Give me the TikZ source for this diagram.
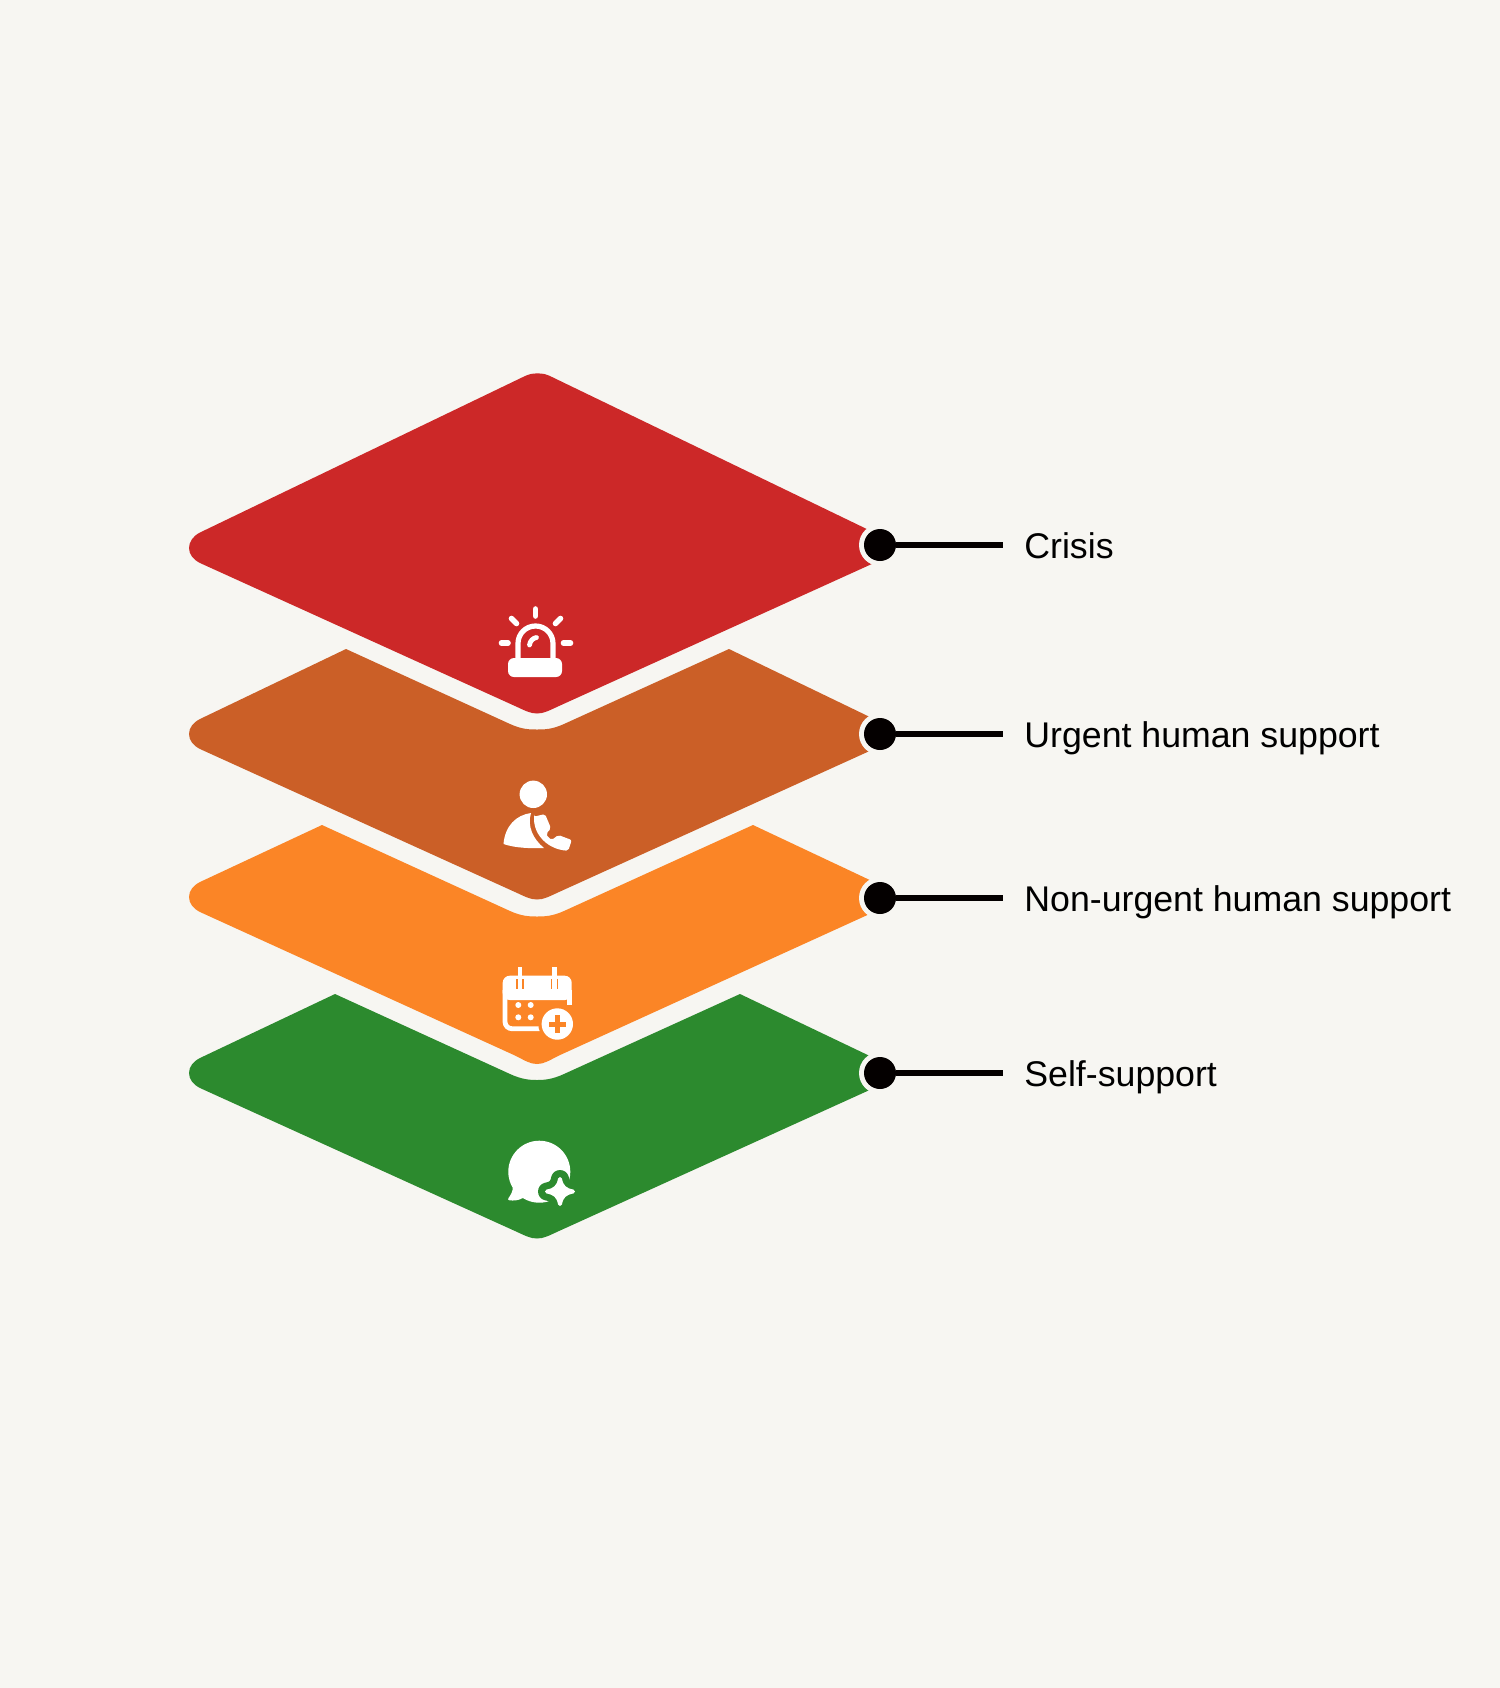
\documentclass[tikz,border=0pt]{standalone}
\usepackage{fontspec}
\setmainfont{Liberation Sans}
\definecolor{bgc}{HTML}{F7F6F2}
\definecolor{crisisc}{HTML}{CC2828}
\definecolor{urgentc}{HTML}{CB5F27}
\definecolor{nonurgc}{HTML}{FB8526}
\definecolor{selfc}{HTML}{2C8A2E}
\definecolor{dotc}{HTML}{040000}
\tikzset{
  dotnode/.style={circle,fill=dotc,inner sep=0pt,minimum size=16pt},
  halo/.style={fill=bgc},
  leader/.style={draw=dotc,line width=3pt},
  lab/.style={anchor=base west,inner sep=0pt,font=\fontsize{17.85pt}{22pt}\selectfont,text=black},
  ray/.style={draw=white,line width=2.8pt,line cap=round},
}
\begin{document}
\begin{tikzpicture}[x=0.5pt,y=-0.5pt]
\useasboundingbox (0,0) rectangle (1500,1688);
\fill[bgc] (0,0) rectangle (1500,1688);
% layers
\fill[crisisc] (200,532.5) .. controls (193,536) and (189,542) .. (189,548) .. controls (189,554) and (193,559.5) .. (200,563) -- (515,706) .. controls (525,710.5) and (530,713.5) .. (537,713.5) .. controls (544,713.5) and (549,710.5) .. (559,706) -- (874,563) .. controls (881,559.5) and (885,554) .. (885,548) .. controls (885,542) and (881,536) .. (874,532.5) -- (552,377) .. controls (545,373.6) and (542,373.3) .. (537.5,373.3) .. controls (533,373.3) and (530,373.6) .. (523,377) -- cycle;
\fill[urgentc] (200,719) .. controls (193,722.5) and (189,728) .. (189,734) .. controls (189,740) and (193,745.5) .. (200,749) -- (515,892) .. controls (525,896.5) and (530,899.5) .. (537,899.5) .. controls (544,899.5) and (549,896.5) .. (559,892) -- (874,749) .. controls (881,745.5) and (885,740) .. (885,734) .. controls (885,728) and (881,722.5) .. (874,719) -- (729,649) -- (564,724) .. controls (552,729.5) and (544,729.5) .. (537,729.5) .. controls (530,729.5) and (522,729.5) .. (510,724) -- (346,649) -- cycle;
\fill[nonurgc] (200,882) .. controls (193,885.5) and (189,891) .. (189,897) .. controls (189,903) and (193,908.5) .. (200,912) -- (515,1055.5) .. controls (525,1060.5) and (530,1064) .. (537,1064) .. controls (544,1064) and (549,1060.5) .. (559,1055.5) -- (874,912) .. controls (881,908.5) and (885,903) .. (885,897) .. controls (885,891) and (881,885.5) .. (874,882) -- (753,825) -- (564,911) .. controls (552,916.4) and (544,916.5) .. (537,916.5) .. controls (530,916.5) and (522,916.4) .. (510,911) -- (322,825) -- cycle;
\fill[selfc] (200,1058) .. controls (193,1061.5) and (189,1067) .. (189,1073) .. controls (189,1079) and (193,1084.5) .. (200,1088) -- (515,1231) .. controls (525,1235.5) and (530,1238.5) .. (537,1238.5) .. controls (544,1238.5) and (549,1235.5) .. (559,1231) -- (874,1088) .. controls (881,1084.5) and (885,1079) .. (885,1073) .. controls (885,1067) and (881,1061.5) .. (874,1058) -- (740,994) -- (564,1074) .. controls (552,1079.5) and (544,1080) .. (537,1080) .. controls (530,1080) and (522,1079.5) .. (510,1074) -- (335,994) -- cycle;
% halos
\fill[halo] (880,545) circle (21);
\fill[halo] (880,734) circle (21);
\fill[halo] (880,898) circle (21);
\fill[halo] (880,1073) circle (21);
% leaders and labels
\node[dotnode] (d1) at (880,545) {};
\node[dotnode] (d2) at (880,734) {};
\node[dotnode] (d3) at (880,898) {};
\node[dotnode] (d4) at (880,1073) {};
\coordinate (e1) at (1003,545);
\coordinate (e2) at (1003,734);
\coordinate (e3) at (1003,898);
\coordinate (e4) at (1003,1073);
\draw[leader] (d1) -- (e1);
\draw[leader] (d2) -- (e2);
\draw[leader] (d3) -- (e3);
\draw[leader] (d4) -- (e4);
\node[lab] (l1) at (1024,558) {Crisis};
\node[lab] (l2) at (1024,747) {Urgent human support};
\node[lab] (l3) at (1024,911) {Non-urgent human support};
\node[lab] (l4) at (1024,1086) {Self-support};
% alarm icon
\fill[white,rounded corners=3pt] (508,658) rectangle (562,677);
\draw[white,line width=2.6pt] (518,662) -- (518,643.5) .. controls (518,633.8) and (525.8,626) .. (535.5,626) .. controls (545.2,626) and (553,633.8) .. (553,643.5) -- (553,662);
\draw[ray,line width=2.4pt] (529.5,645) .. controls (530,641) and (533,638) .. (536.5,637.5);
\draw[ray] (535.5,609) -- (535.5,616);
\draw[ray] (511.5,618.5) -- (516.5,623.5);
\draw[ray] (560.5,618.5) -- (555.5,623.5);
\draw[ray] (501.5,643) -- (508,643);
\draw[ray] (563.5,643) -- (570.5,643);
% person icon
\fill[white] (533.3,794.3) circle (13.7);
\fill[white] (503.5,844) .. controls (505,826) and (516,815) .. (531,813) .. controls (527,826) and (533,839) .. (544,848) .. controls (530,848.5) and (515,848) .. (503.5,844) -- cycle;
\fill[white,rounded corners=1pt] (534,816.7) -- (545,814) -- (551,828.3) -- (546,834) .. controls (548,837) and (549,838) .. (551.7,840) -- (558.3,835) -- (571.7,840) -- (568.3,850.7) .. controls (549,849.5) and (534,836) .. (534,816.7) -- cycle;
% calendar icon
\fill[white,rounded corners=3.5pt] (502.7,975.7) rectangle (571.7,1000);
\fill[white] (502.7,990) rectangle (571.7,995);
\draw[white,line width=2.4pt,rounded corners=3.5pt] (505,990) -- (505,1028.7) -- (545,1028.7);
\draw[white,line width=2.4pt] (569.3,990) -- (569.3,1005);
\fill[nonurgc] (516.3,979) rectangle (523.7,988.5);
\fill[nonurgc] (550.6,979) rectangle (558,988.5);
\fill[white] (517.7,967.3) rectangle (522.3,988.5);
\fill[white] (552,967.3) rectangle (556.6,988.5);
\fill[white] (518.3,1005) circle (3);
\fill[white] (530.7,1005) circle (3);
\fill[white] (518.3,1017.3) circle (3);
\fill[white] (530.7,1017.3) circle (3);
\fill[nonurgc] (557.3,1024) circle (19);
\fill[white] (557.3,1024) circle (15.7);
\fill[nonurgc] (555,1015) rectangle (559.8,1033);
\fill[nonurgc] (548.5,1021.5) rectangle (566,1026.5);
% chat icon
\fill[white] (539.3,1171.7) circle (31);
\fill[white] (513,1186) .. controls (513,1192) and (510,1196) .. (508.5,1198) .. controls (507,1200.5) and (510,1200.5) .. (513,1200.5) .. controls (518,1200.5) and (521,1199) .. (524,1197.5) -- (535,1202) -- cycle;
\path[draw=selfc,fill=selfc,line width=9pt,line join=round] (560,1179) .. controls (561.5,1187) and (565,1190) .. (573,1191.5) .. controls (565,1193) and (561.5,1196) .. (560,1204) .. controls (558.5,1196) and (555,1193) .. (547,1191.5) .. controls (555,1190) and (558.5,1187) .. (560,1179) -- cycle;
\path[draw=white,fill=white,line width=2pt,line join=round] (560,1179) .. controls (561.5,1187) and (565,1190) .. (573,1191.5) .. controls (565,1193) and (561.5,1196) .. (560,1204) .. controls (558.5,1196) and (555,1193) .. (547,1191.5) .. controls (555,1190) and (558.5,1187) .. (560,1179) -- cycle;
\end{tikzpicture}
\end{document}
